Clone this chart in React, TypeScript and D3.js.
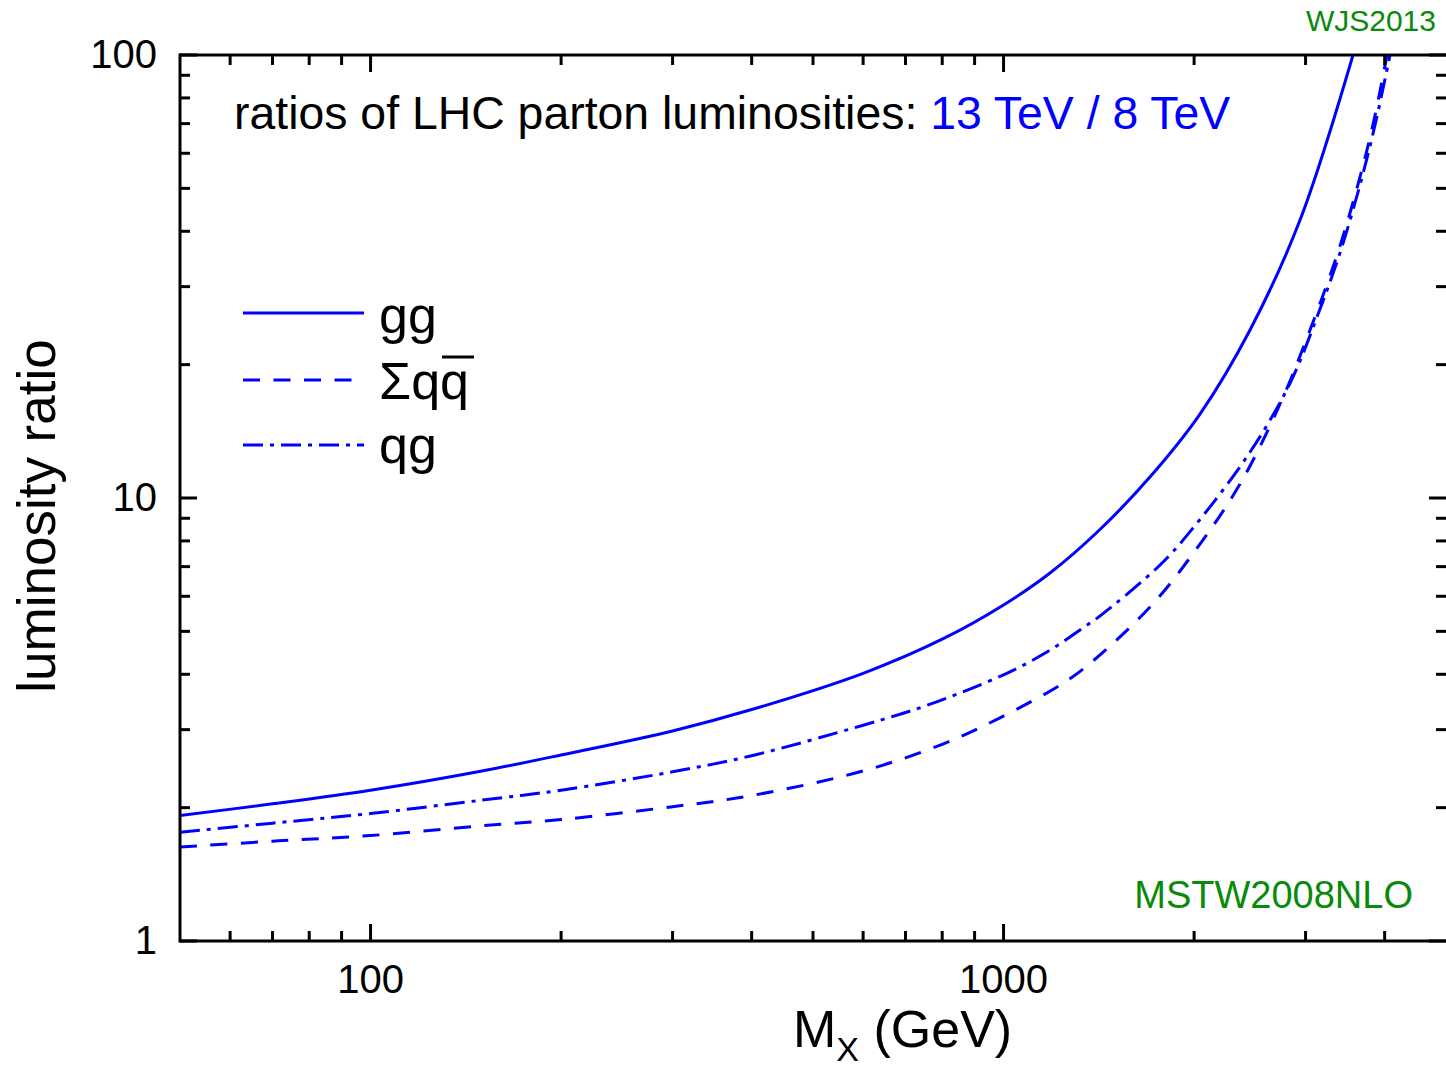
import React from 'react';
import * as d3 from 'd3';

// gg luminosity ratio (13 TeV / 8 TeV)
const ggMass = [50, 70, 100, 150, 200, 300, 400, 600, 800, 1000, 1184, 1420, 1703, 2043, 2451, 2940, 3565];
const ggRatio = [1.92, 2.04, 2.19, 2.42, 2.63, 2.98, 3.33, 4.02, 4.8, 5.735, 6.77, 8.49, 11.15, 15.47, 23.95, 42.4, 100];

// sum q qbar
const qqMass = [50, 70, 100, 150, 200, 300, 400, 600, 800, 987, 1242, 1385, 1722, 2043, 2363, 2734, 3049, 3376, 3631, 3836, 4035];
const qqRatio = [1.63, 1.68, 1.73, 1.82, 1.88, 2.01, 2.13, 2.42, 2.78, 3.19, 3.82, 4.29, 5.77, 7.87, 10.75, 16.3, 23.95, 35.9, 51.1, 69.9, 100];

// qg
const qgMass = [50, 70, 100, 150, 200, 300, 400, 600, 755, 1000, 1171, 1335, 1421, 1767, 1993, 2452, 2836, 3128, 3401, 3658, 3864, 4079];
const qgRatio = [1.76, 1.845, 1.94, 2.08, 2.19, 2.41, 2.62, 3.07, 3.4, 3.99, 4.49, 5.09, 5.42, 7.06, 8.56, 12.7, 18.18, 25.63, 35.8, 51.0, 69.7, 100];

const xMajorTicks = [100, 1000];
const xMinorTicks = [60, 70, 80, 90, 200, 300, 400, 500, 600, 700, 800, 900, 2000, 3000, 4000];
const yMajorTicks = [1, 10, 100];
const yMinorTicks = [2, 3, 4, 5, 6, 7, 8, 9, 20, 30, 40, 50, 60, 70, 80, 90];
const xTickLabels = ['100', '1000'];
const yTickLabels = ['1', '10', '100'];

const FONT = '"Liberation Sans", Arial, Helvetica, sans-serif';
const BLUE = '#0000ff';
const GREEN = '#0a8a0a';

export default function App() {
  const W = 1446;
  const H = 1068;
  const left = 180, right = 1446, top = 55, bottom = 941;
  const x = d3.scaleLog().domain([50, 5000]).range([left, right]);
  const y = d3.scaleLog().domain([1, 100]).range([bottom, top]);

  const line = d3
    .line<[number, number]>()
    .x((d) => x(d[0]))
    .y((d) => y(d[1]))
    .curve(d3.curveCatmullRom.alpha(0.5));

  const zip = (a: number[], b: number[]) => a.map((m, i) => [m, b[i]] as [number, number]);

  const series = [
    { data: zip(ggMass, ggRatio), dash: null },
    { data: zip(qqMass, qqRatio), dash: '17 13.5' },
    { data: zip(qgMass, qgRatio), dash: '20 7 4 7' },
  ];

  const MAJ = 17;
  const MIN = 10;
  const sw = 3;

  return (
    <svg
      width={W}
      height={H}
      style={{ position: 'absolute', left: 0, top: 0, display: 'block', background: '#fff' }}
      fontFamily={FONT}
    >
      <defs>
        <clipPath id="plotclip">
          <rect x={left} y={top} width={right - left + 4} height={bottom - top} />
        </clipPath>
      </defs>

      {/* curves */}
      <g clipPath="url(#plotclip)">
        {series.map((s, i) => (
          <path
            key={i}
            d={line(s.data) || ''}
            fill="none"
            stroke={BLUE}
            strokeWidth={sw}
            strokeDasharray={s.dash || undefined}
          />
        ))}
      </g>

      {/* frame */}
      <g stroke="#000" strokeWidth={sw} fill="none">
        <line x1={left} y1={top} x2={right + 4} y2={top} />
        <line x1={left} y1={bottom} x2={right + 4} y2={bottom} />
        <line x1={left} y1={top - 1.5} x2={left} y2={bottom + 1.5} />
        <line x1={right + 3} y1={top} x2={right + 3} y2={bottom} />

        {xMajorTicks.map((t) => (
          <g key={'xM' + t}>
            <line x1={x(t)} x2={x(t)} y1={bottom} y2={bottom - MAJ} />
            <line x1={x(t)} x2={x(t)} y1={top} y2={top + MAJ} />
          </g>
        ))}
        {xMinorTicks.map((t) => (
          <g key={'xm' + t}>
            <line x1={x(t)} x2={x(t)} y1={bottom} y2={bottom - MIN} />
            <line x1={x(t)} x2={x(t)} y1={top} y2={top + MIN} />
          </g>
        ))}
        {yMajorTicks.map((t) => (
          <g key={'yM' + t}>
            <line x1={left} x2={left + MAJ} y1={y(t)} y2={y(t)} />
            <line x1={right} x2={right - MAJ} y1={y(t)} y2={y(t)} />
          </g>
        ))}
        {yMinorTicks.map((t) => (
          <g key={'ym' + t}>
            <line x1={left} x2={left + MIN} y1={y(t)} y2={y(t)} />
            <line x1={right} x2={right - MIN} y1={y(t)} y2={y(t)} />
          </g>
        ))}
      </g>

      {/* tick labels */}
      <g fontSize={40} fill="#000">
        {yMajorTicks.map((t, i) => (
          <text key={'yl' + t} x={157} y={y(t) + 13} textAnchor="end">
            {yTickLabels[i]}
          </text>
        ))}
        {xMajorTicks.map((t, i) => (
          <text key={'xl' + t} x={x(t)} y={993} textAnchor="middle">
            {xTickLabels[i]}
          </text>
        ))}
      </g>

      {/* axis titles */}
      <text x={793} y={1047} fontSize={52} fill="#000">
        M
        <tspan fontSize={34} dy={14}>X</tspan>
        <tspan dy={-14}> (GeV)</tspan>
      </text>
      <text
        transform={`translate(55,516) rotate(-90)`}
        fontSize={53}
        textAnchor="middle"
        fill="#000"
      >
        luminosity ratio
      </text>

      {/* title */}
      <text x={234} y={129} fontSize={46.4} fill="#000">
        ratios of LHC parton luminosities: <tspan fill={BLUE}>13 TeV / 8 TeV</tspan>
      </text>

      {/* legend */}
      <g stroke={BLUE} strokeWidth={sw} fill="none">
        <line x1={243} x2={364} y1={313} y2={313} />
        <line x1={243} x2={352} y1={380} y2={380} strokeDasharray="17 13.5" />
        <line x1={243} x2={364} y1={445} y2={445} strokeDasharray="20 7 4 7" />
      </g>
      <g fontSize={52} fill="#000">
        <text x={379} y={333}>gg</text>
        <text x={379} y={399}>Σqq</text>
        <text x={379} y={463}>qg</text>
      </g>
      <line x1={442} x2={474} y1={357} y2={357} stroke="#000" strokeWidth={3} />

      {/* annotations */}
      <text x={1436} y={31} fontSize={30} fill={GREEN} textAnchor="end">
        WJS2013
      </text>
      <text x={1413} y={908} fontSize={38} fill={GREEN} textAnchor="end">
        MSTW2008NLO
      </text>
    </svg>
  );
}
